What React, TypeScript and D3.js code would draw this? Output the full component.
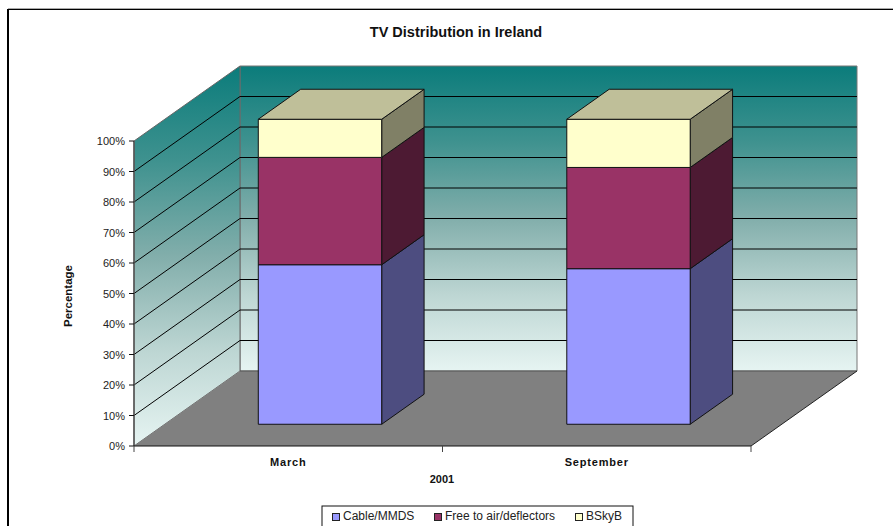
import React from "react";
import * as d3 from "d3";

const categories = ["March", "September"];
const seriesNames = ["Cable/MMDS", "Free to air/deflectors", "BSkyB"];
const cable = [52.3, 51];
const freeToAir = [35.2, 33.2];
const bskyb = [12.5, 15.8];
const yTicks = [0, 10, 20, 30, 40, 50, 60, 70, 80, 90, 100];

const front = ["#9999FF", "#993366", "#FFFFCC"];
const side = ["#4D4D80", "#4D1A33", "#808066"];
const topFace = "#BFBF99";

const y = d3.scaleLinear().domain([0, 100]).range([446, 141]);
const x = d3.scaleBand<number>().domain([0, 1]).range([135, 752]).paddingInner(0.6).paddingOuter(0.3);
const depth = d3.scaleLinear().domain([0, 1]).range([0, 1]);
const DX = 106, DY = -75;

// project a (x-pixel, value, depth fraction) point onto the screen
const P = (px: number, v: number, d: number): [number, number] => [
  px + depth(d) * DX,
  y(v) + depth(d) * DY,
];
const poly = (pts: [number, number][]) => d3.line()(pts)! + "Z";

const stack = d3.stack<number>().keys(["0", "1", "2"]).value((i, k) => [cable, freeToAir, bskyb][+k][i])([0, 1]);

export default function App() {
  const d0 = 0.29, d1 = 0.69;
  return (
    <svg width={893} height={526} style={{ position: "absolute", left: 0, top: 0, fontFamily: "Liberation Sans, Arial, sans-serif" }}>
      <defs>
        <linearGradient id="back" x1="0" y1="0" x2="0" y2="1">
          <stop offset="0" stopColor="#0B7C7B" />
          <stop offset="0.25" stopColor="#3F928F" />
          <stop offset="0.5" stopColor="#82AEAB" />
          <stop offset="0.75" stopColor="#BDD6D3" />
          <stop offset="1" stopColor="#E6F4F2" />
        </linearGradient>
      </defs>
      <line x1={8} x2={893} y1={8.5} y2={8.5} stroke="#aaa" />
      <line x1={8} x2={893} y1={9.5} y2={9.5} stroke="#000" />
      <line x1={8} x2={8} y1={9} y2={526} stroke="#000" strokeWidth={2} />

      <path d={poly([P(134, 0, 1), P(751, 0, 1), P(751, 100, 1), P(134, 100, 1)])} fill="url(#back)" stroke="#777" strokeWidth={1} />
      <path d={poly([P(134, 0, 0), P(134, 0, 1), P(134, 100, 1), P(134, 100, 0)])} fill="url(#back)" stroke="#666" strokeWidth={1} />
      <path d={poly([P(134, 0, 0), P(751, 0, 0), P(751, 0, 1), P(134, 0, 1)])} fill="#808080" />
      <path d={d3.line()([P(134, 0, 1), P(751, 0, 1)])!} stroke="#555" fill="none" />
      <path d={d3.line()([P(751, 0, 0), P(751, 0, 1)])!} stroke="#222" fill="none" />

      {yTicks.slice(1, -1).map((t) => (
        <path key={t} d={d3.line()([P(134, t, 0), P(134, t, 1), P(751, t, 1)])!} fill="none" stroke="#000" strokeWidth={1} />
      ))}

      {categories.map((c, i) => {
        const x0 = x(i)!;
        const x1 = x0 + x.bandwidth();
        return (
          <g key={c} stroke="#111" strokeWidth={1} strokeLinejoin="round">
            {stack.map((s, k) => {
              const [a, b] = s[i];
              return (
                <g key={k}>
                  <path d={poly([P(x1, a, d0), P(x1, a, d1), P(x1, b, d1), P(x1, b, d0)])} fill={side[k]} />
                  <path d={poly([P(x0, a, d0), P(x1, a, d0), P(x1, b, d0), P(x0, b, d0)])} fill={front[k]} />
                </g>
              );
            })}
            <path d={poly([P(x0, 100, d0), P(x1, 100, d0), P(x1, 100, d1), P(x0, 100, d1)])} fill={topFace} />
          </g>
        );
      })}

      <path d={d3.line()([P(134, 100, 0), P(134, 0, 0)])!} stroke="#555" strokeWidth={1.5} fill="none" />
      <path d={d3.line()([P(134, 0, 0), P(751, 0, 0)])!} stroke="#111" strokeWidth={1.2} fill="none" />
      {yTicks.map((t) => (
        <g key={t}>
          <line x1={129} x2={134} y1={y(t)} y2={y(t)} stroke="#111" />
          <text x={125} y={y(t) + 4} textAnchor="end" fontSize={11} fill="#222">{t}%</text>
        </g>
      ))}
      {[134, 442.5, 751].map((v) => <line key={v} x1={v} x2={v} y1={446} y2={452} stroke="#444" />)}

      {categories.map((c, i) => (
        <text key={c} x={x(i)! + x.bandwidth() / 2 - 1} y={466} textAnchor="middle" fontSize={11} fontWeight="bold" letterSpacing={0.8} fill="#111">{c}</text>
      ))}
      <text x={442} y={483} textAnchor="middle" fontSize={11} fontWeight="bold" fill="#111">2001</text>
      <text x={456} y={36.5} textAnchor="middle" fontSize={14.5} fontWeight="bold" fill="#111">TV Distribution in Ireland</text>
      <text transform="translate(71.5,296) rotate(-90)" textAnchor="middle" fontSize={11.5} fontWeight="bold" fill="#111">Percentage</text>

      <rect x={322} y={506} width={311} height={30} fill="#fff" stroke="#111" />
      {seriesNames.map((n, k) => {
        const lx = [333, 435, 576][k];
        return (
          <g key={n}>
            <rect x={lx - 0.5} y={513.5} width={7} height={7} fill={front[k]} stroke="#222" />
            <text x={lx + 10} y={520} fontSize={12} fill="#222">{n}</text>
          </g>
        );
      })}
    </svg>
  );
}
